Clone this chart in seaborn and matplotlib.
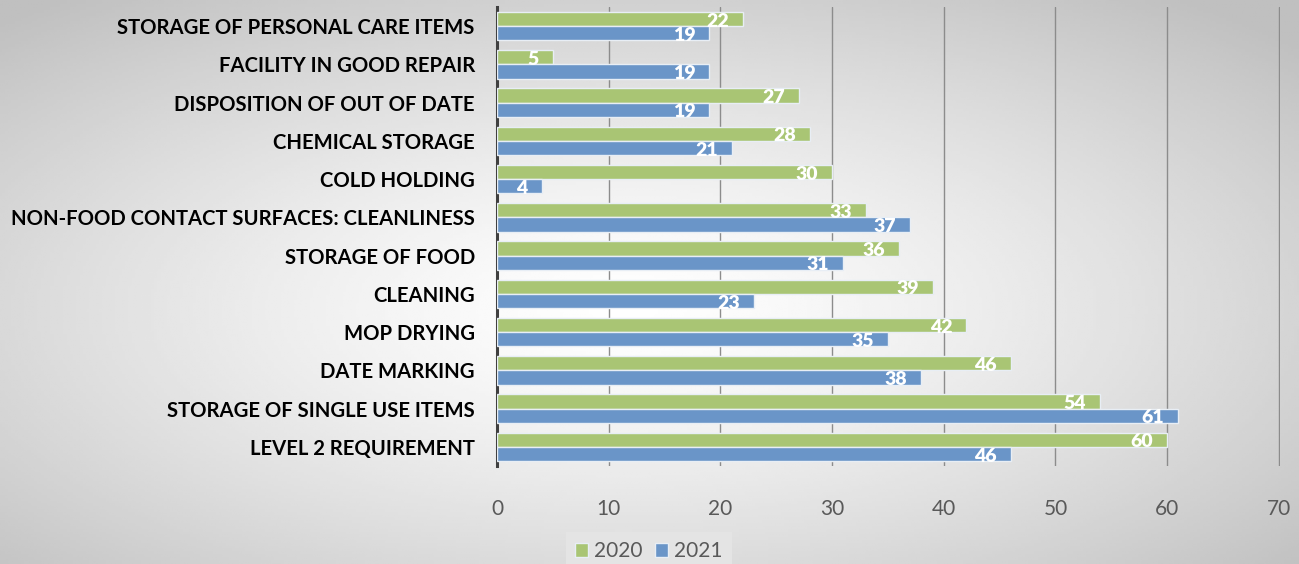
import numpy as np
import pandas as pd
import matplotlib.pyplot as plt
import seaborn as sns

# Data
categories = ['STORAGE OF PERSONAL CARE ITEMS', 'FACILITY IN GOOD REPAIR',
              'DISPOSITION OF OUT OF DATE', 'CHEMICAL STORAGE', 'COLD HOLDING',
              'NON-FOOD CONTACT SURFACES: CLEANLINESS', 'STORAGE OF FOOD', 'CLEANING',
              'MOP DRYING', 'DATE MARKING', 'STORAGE OF SINGLE USE ITEMS',
              'LEVEL 2 REQUIREMENT']
vals_2020 = [22, 5, 27, 28, 30, 33, 36, 39, 42, 46, 54, 60]
vals_2021 = [19, 19, 19, 21, 4, 37, 31, 23, 35, 38, 61, 46]
years = ['2020', '2021']
colors = ['#A9C574', '#6A95C8']
xticks = [0, 10, 20, 30, 40, 50, 60, 70]

df = pd.DataFrame({
    'item': categories * 2,
    'count': vals_2020 + vals_2021,
    'year': [years[0]] * len(categories) + [years[1]] * len(categories),
})

sns.set_style('white')
plt.rcParams['font.family'] = ['Lato', 'DejaVu Sans']

fig = plt.figure(figsize=(12.99, 5.64), dpi=100)

# radial gradient background
bg = fig.add_axes([0, 0, 1, 1], zorder=-10)
xx, yy = np.meshgrid(np.linspace(0, 1, 400), np.linspace(0, 1, 200))
r = np.sqrt(((xx - 0.48) / 0.5) ** 2 + ((yy - 0.55) / 0.5) ** 2) / np.sqrt(2)
gray = 1 - 0.25 * np.clip(r, 0, 1) ** 1.3
bg.imshow(gray, cmap='gray', vmin=0, vmax=1, aspect='auto', extent=[0, 1, 0, 1])
bg.axis('off')

ax = fig.add_axes([497 / 1299, 1 - 466 / 564, (1280 - 497) / 1299, (466 - 7) / 564])
ax.set_facecolor('none')

sns.barplot(data=df, y='item', x='count', hue='year', hue_order=years,
            palette=colors, saturation=1, orient='h', width=0.74, gap=0,
            edgecolor='#e8eef5', linewidth=1, ax=ax, zorder=3)

# value labels inside the bar end
for cont in ax.containers:
    for bar in cont:
        w = bar.get_width()
        ax.annotate(f'{int(w)}', (w, bar.get_y() + bar.get_height() / 2),
                    xytext=(-10, -1.5), textcoords='offset points',
                    ha='right', va='center', color='white', fontsize=14,
                    fontweight='heavy', zorder=5)

ax.set_xlim(0, 70.1)
ax.set_xticks(xticks)
ax.grid(axis='x', color='#8c8c8c', linewidth=1)
ax.grid(axis='y', visible=False)
ax.set_axisbelow(True)
for s in ['top', 'right', 'bottom']:
    ax.spines[s].set_visible(False)
ax.spines['left'].set_color('#404040')
ax.spines['left'].set_linewidth(2.2)
ax.tick_params(axis='x', length=0, pad=24, labelsize=15, labelcolor='#595959')
ax.tick_params(axis='y', length=0, pad=16)
for lab in ax.get_yticklabels():
    lab.set_fontweight('bold')
    lab.set_fontsize(14.6)
    lab.set_color('black')
ax.set_xlabel('')
ax.set_ylabel('')

leg = ax.legend(loc='upper left', bbox_to_anchor=(566 / 1299, 1 - 532 / 564),
                bbox_transform=fig.transFigure, ncol=2, frameon=True,
                fontsize=15, handlelength=0.6, handleheight=0.6,
                handletextpad=0.3, columnspacing=0.6, borderpad=0.45,
                borderaxespad=0, fancybox=False)
leg.get_frame().set_facecolor('#e4e4e4')
leg.get_frame().set_edgecolor('none')
leg.get_frame().set_alpha(1)
for t in leg.get_texts():
    t.set_color('#595959')

fig.savefig('out.png', dpi=100)
